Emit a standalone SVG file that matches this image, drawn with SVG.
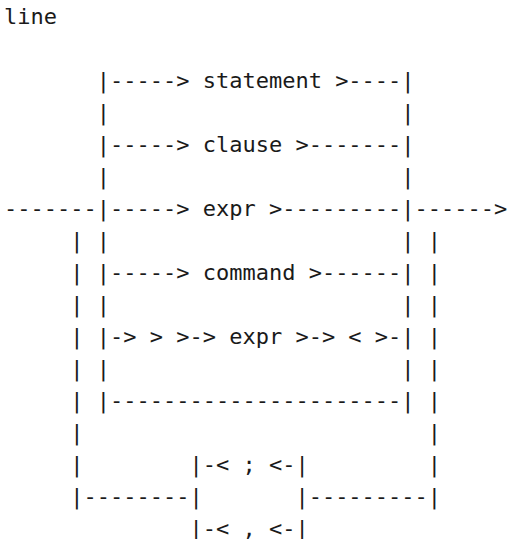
<svg xmlns="http://www.w3.org/2000/svg" width="508" height="539" viewBox="0 0 508 539" xml:space="preserve">
  <style>
    .t { font-family: "DejaVu Sans Mono", "Liberation Mono", monospace; font-size: 22px; fill: #1a1a1a; white-space: pre; }
  </style>
  <rect width="508" height="539" fill="#ffffff"/>
  <!-- column x = 4 + col * 13.246, row baseline y = 24 + row * 32 -->
  <g id="title"><text class="t" x="4" y="24">line</text></g>
  <g id="connectors">
    <text class="t" x="4" y="88">       |----->           >----|</text>
    <text class="t" x="4" y="120">       |                      |</text>
    <text class="t" x="4" y="152">       |----->        >-------|</text>
    <text class="t" x="4" y="184">       |                      |</text>
    <text class="t" x="4" y="216">-------|----->      >---------|------></text>
    <text class="t" x="4" y="248">     | |                      | |</text>
    <text class="t" x="4" y="280">     | |----->         >------| |</text>
    <text class="t" x="4" y="312">     | |                      | |</text>
    <text class="t" x="4" y="344">     | |-> > >->      >-> &lt; >-| |</text>
    <text class="t" x="4" y="376">     | |                      | |</text>
    <text class="t" x="4" y="408">     | |----------------------| |</text>
    <text class="t" x="4" y="440">     |                          |</text>
    <text class="t" x="4" y="472">     |        |-&lt;   &lt;-|         |</text>
    <text class="t" x="4" y="504">     |--------|       |---------|</text>
    <text class="t" x="4" y="536">              |-&lt;   &lt;-|</text>
  </g>
  <g id="node-statement"><text class="t" x="202.69" y="88">statement</text></g>
  <g id="node-clause"><text class="t" x="202.69" y="152">clause</text></g>
  <g id="node-expr"><text class="t" x="202.69" y="216">expr</text></g>
  <g id="node-command"><text class="t" x="202.69" y="280">command</text></g>
  <g id="node-expr-2"><text class="t" x="229.18" y="344">expr</text></g>
  <g id="node-semicolon"><text class="t" x="242.43" y="472">;</text></g>
  <g id="node-comma"><text class="t" x="242.43" y="536">,</text></g>
</svg>
